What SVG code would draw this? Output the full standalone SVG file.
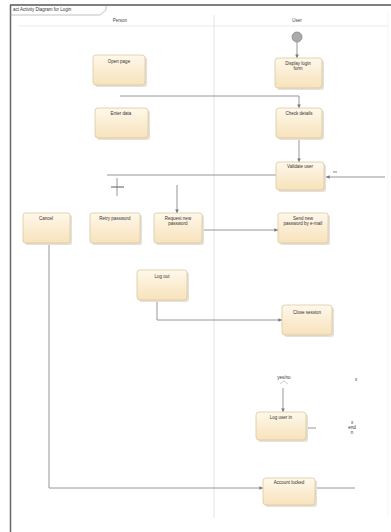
<svg xmlns="http://www.w3.org/2000/svg" width="391" height="532" viewBox="0 0 391 532">
<style>
.t{font-family:"Liberation Sans",Arial,sans-serif;font-size:4.5px;fill:#333;text-anchor:middle}
.h{font-family:"Liberation Sans",Arial,sans-serif;font-size:4.5px;fill:#444;text-anchor:middle}
.n{fill:url(#g);stroke:#d9c9a5;stroke-width:0.8}
.s{fill:#e6e0d6}
.c{fill:none;stroke:#8a8a8a;stroke-width:0.9}
</style>
<defs>
<linearGradient id="g" x1="0" y1="0" x2="0" y2="1">
<stop offset="0" stop-color="#fff8ea"/>
<stop offset="1" stop-color="#f7e2bb"/>
</linearGradient>
<marker id="a" viewBox="0 0 6 6" refX="6" refY="3" markerWidth="4" markerHeight="4" orient="auto">
<path d="M0,0L6,3L0,6z" fill="#777"/>
</marker>
</defs>
<rect width="391" height="532" fill="#fff"/>
<g id="frame">
<line x1="10" y1="5" x2="391" y2="5" stroke="#555" stroke-width="1.5"/>
<line x1="10.5" y1="5" x2="10.5" y2="532" stroke="#666" stroke-width="1.5"/>
<path d="M10,15 H100 L106,10 V5" fill="none" stroke="#999" stroke-width="0.6"/>
<text x="13" y="11" font-family="Liberation Sans,Arial,sans-serif" font-size="4.5" fill="#333">act Activity Diagram for Login</text>
<line x1="18" y1="26" x2="388" y2="26" stroke="#ddd" stroke-width="0.6"/>
<line x1="214" y1="15" x2="214" y2="518" stroke="#ddd" stroke-width="0.8"/>
<line x1="388" y1="12" x2="388" y2="518" stroke="#eee" stroke-width="0.6"/>
<text class="h" x="120" y="22">Person</text>
<text class="h" x="297" y="22">User</text>
</g>
<g id="connectors">
<line class="c" x1="297" y1="42" x2="297" y2="58" marker-end="url(#a)" stroke-width="1.3"/>
<path class="c" d="M120,96 H299 V108" marker-end="url(#a)"/>
<line class="c" x1="299" y1="138" x2="299" y2="162" marker-end="url(#a)"/>
<path class="c" d="M107,175 H276"/>
<line class="c" x1="385" y1="177" x2="326" y2="177" marker-end="url(#a)"/>
<text x="333" y="173" font-family="Liberation Sans,Arial,sans-serif" font-size="3.5" fill="#555">no</text>
<line class="c" x1="117" y1="178" x2="117" y2="196"/>
<line x1="111" y1="187" x2="124" y2="187" stroke="#777" stroke-width="1.2"/>
<line class="c" x1="177" y1="185" x2="177" y2="213" marker-end="url(#a)"/>
<line class="c" x1="202" y1="230" x2="278" y2="230" marker-end="url(#a)"/>
<path class="c" d="M157,300 V320 H282" marker-end="url(#a)"/>
<line class="c" x1="283" y1="388" x2="283" y2="412" marker-end="url(#a)"/>
<line class="c" x1="306" y1="428" x2="316" y2="428"/>
<path class="c" d="M49,243 V488 H263" marker-end="url(#a)"/>
<line class="c" x1="315" y1="488" x2="355" y2="488"/>
</g>
<g id="start">
<circle cx="297" cy="37" r="5" fill="#aaa" stroke="#888" stroke-width="0.8"/>
</g>
<g id="n1"><rect class="s" x="95" y="57" width="52" height="30" rx="3"/><rect class="n" x="93" y="55" width="52" height="30" rx="3"/><text class="t" x="119" y="63">Open page</text></g>
<g id="n2"><rect class="s" x="97" y="110" width="53" height="30" rx="3"/><rect class="n" x="95" y="108" width="53" height="30" rx="3"/><text class="t" x="121" y="115">Enter data</text></g>
<g id="n3"><rect class="s" x="277" y="60" width="47" height="30" rx="3"/><rect class="n" x="275" y="58" width="47" height="30" rx="3"/><text class="t" x="298" y="65">Display login</text><text class="t" x="298" y="70">form</text></g>
<g id="n4"><rect class="s" x="278" y="110" width="46" height="30" rx="3"/><rect class="n" x="276" y="108" width="46" height="30" rx="3"/><text class="t" x="299" y="115">Check details</text></g>
<g id="n5"><rect class="s" x="278" y="164" width="48" height="28" rx="3"/><rect class="n" x="276" y="162" width="48" height="28" rx="3"/><text class="t" x="300" y="168">Validate user</text></g>
<g id="n6"><rect class="s" x="25" y="215" width="47" height="30" rx="2"/><rect class="n" x="23" y="213" width="47" height="30" rx="2"/><text class="t" x="46" y="220">Cancel</text></g>
<g id="n7"><rect class="s" x="92" y="215" width="50" height="30" rx="2"/><rect class="n" x="90" y="213" width="50" height="30" rx="2"/><text class="t" x="115" y="220">Retry password</text></g>
<g id="n8"><rect class="s" x="156" y="215" width="48" height="30" rx="2"/><rect class="n" x="154" y="213" width="48" height="30" rx="2"/><text class="t" x="178" y="220">Request new</text><text class="t" x="178" y="225">password</text></g>
<g id="n9"><rect class="s" x="280" y="215" width="50" height="30" rx="2"/><rect class="n" x="278" y="213" width="50" height="30" rx="2"/><text class="t" x="303" y="220">Send new</text><text class="t" x="303" y="225">password by e-mail</text></g>
<g id="n10"><rect class="s" x="139" y="272" width="50" height="30" rx="3"/><rect class="n" x="137" y="270" width="50" height="30" rx="3"/><text class="t" x="162" y="278">Log out</text></g>
<g id="n11"><rect class="s" x="284" y="307" width="50" height="30" rx="3"/><rect class="n" x="282" y="305" width="50" height="30" rx="3"/><text class="t" x="307" y="314">Close session</text></g>
<g id="d1"><text class="t" x="284" y="379" font-size="3.5">yes/no</text><path d="M280,384 L284,381 L288,384" fill="none" stroke="#aaa" stroke-width="0.6"/></g>
<g id="n12"><rect class="s" x="258" y="414" width="50" height="28" rx="3"/><rect class="n" x="256" y="412" width="50" height="28" rx="3"/><text class="t" x="281" y="419">Log user in</text></g>
<g id="lbl"><text class="t" x="356" y="381" font-size="3">x</text><text class="t" x="352" y="424" font-size="3">x</text><text class="t" x="352" y="429" font-size="3">end</text><text class="t" x="352" y="434" font-size="3">n</text></g>
<g id="n13"><rect class="s" x="265" y="480" width="52" height="27" rx="3"/><rect class="n" x="263" y="478" width="52" height="27" rx="3"/><text class="t" x="289" y="484">Account locked</text></g>
</svg>
